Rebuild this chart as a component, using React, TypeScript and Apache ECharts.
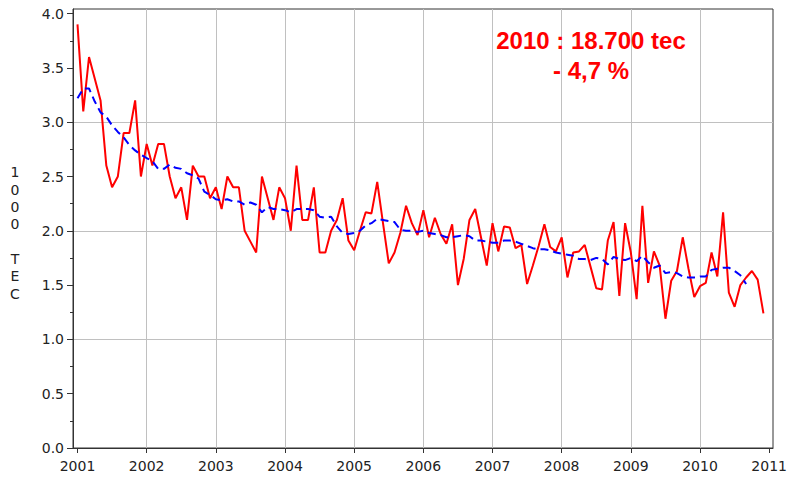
import React, { useEffect, useRef } from "react";
import * as echarts from "echarts";

const START_YEAR = 2001;
const END_YEAR = 2011;

// Monthly values, Jan 2001 .. Dec 2010 (1000 TEC)
const redValues = [
  3.9, 3.1, 3.6, 3.4, 3.2, 2.6, 2.4, 2.5, 2.9, 2.9, 3.2, 2.5,
  2.8, 2.6, 2.8, 2.8, 2.5, 2.3, 2.4, 2.1, 2.6, 2.5, 2.5, 2.3,
  2.4, 2.2, 2.5, 2.4, 2.4, 2.0, 1.9, 1.8, 2.5, 2.3, 2.1, 2.4,
  2.3, 2.0, 2.6, 2.1, 2.1, 2.4, 1.8, 1.8, 2.0, 2.1, 2.3, 1.91,
  1.82, 2.0, 2.17, 2.16, 2.45, 2.07, 1.7, 1.8, 1.98, 2.23, 2.07, 1.96,
  2.19, 1.94, 2.12, 1.97, 1.88, 2.06, 1.5, 1.74, 2.1, 2.2, 1.94, 1.68,
  2.07, 1.81, 2.04, 2.03, 1.84, 1.87, 1.51, 1.68, 1.86, 2.06, 1.85, 1.81,
  1.94, 1.57, 1.8, 1.81, 1.87, 1.67, 1.47, 1.46, 1.91, 2.08, 1.4, 2.07,
  1.8, 1.37, 2.23, 1.52, 1.81, 1.68, 1.19, 1.54, 1.63, 1.94, 1.65, 1.39,
  1.49, 1.52, 1.8, 1.58, 2.17, 1.43, 1.3, 1.5, 1.57, 1.63, 1.55, 1.24,
];

// Trend (dashed), Jan 2001 .. Sep 2010
const blueValues = [
  3.22, 3.31, 3.31, 3.19, 3.09, 3.05, 2.97, 2.91, 2.86, 2.79, 2.74, 2.7,
  2.67, 2.64, 2.57, 2.57, 2.61, 2.58, 2.57, 2.53, 2.51, 2.48, 2.36, 2.33,
  2.29, 2.28, 2.29, 2.27, 2.27, 2.24, 2.26, 2.24, 2.17, 2.22, 2.2, 2.2,
  2.19, 2.17, 2.2, 2.2, 2.2, 2.19, 2.13, 2.12, 2.13, 2.04, 1.98, 1.97,
  1.98, 2.0, 2.05, 2.07, 2.11, 2.1, 2.09, 2.08, 2.01, 2.0, 2.0, 1.99,
  2.0, 1.98, 1.97, 1.96, 1.94, 1.94, 1.95, 1.96, 1.95, 1.91, 1.91, 1.9,
  1.89, 1.89, 1.91, 1.91, 1.9, 1.88, 1.86, 1.84, 1.83, 1.83, 1.82, 1.8,
  1.79, 1.78, 1.77, 1.74, 1.74, 1.73, 1.75, 1.74, 1.69, 1.76, 1.74, 1.73,
  1.75, 1.72, 1.77, 1.71, 1.66, 1.68, 1.61, 1.62, 1.61, 1.58, 1.57, 1.57,
  1.58, 1.58, 1.64, 1.65, 1.66, 1.66, 1.63, 1.59, 1.51,
];

const Y_MIN = 0;
const Y_MAX = 4;
const Y_STEP = 0.5;
const Y_TITLE = "1000 TEC";
const ANNOTATION_LINES = ["2010 : 18.700 tec", "- 4,7 %"];

const LABEL_FONT = "DejaVu Sans";
const LABEL_COLOR = "#222";
const GRID_GRAY = "#c0c0c0";
const T = "transparent";

export default function App() {
  const ref = useRef<HTMLDivElement>(null);

  useEffect(() => {
    if (!ref.current) return;
    const chart = echarts.init(ref.current, null, { renderer: "svg" });
    const toXY = (vals: number[]) =>
      vals.map((v, i) => [START_YEAR + i / 12, v]);

    // frame grid: 2000.935 .. 2011.055 ; 0 .. 4.042
    const xSplitColors = [T, T, GRID_GRAY, GRID_GRAY, GRID_GRAY, GRID_GRAY, GRID_GRAY, GRID_GRAY, GRID_GRAY, GRID_GRAY, GRID_GRAY, T, T];
    const ySplitColors = [T, T, GRID_GRAY, T, GRID_GRAY, T, GRID_GRAY, T, T, T];

    const option: any = {
      animation: false,
      backgroundColor: "#ffffff",
      grid: [
        {
          left: 73,
          top: 9,
          width: 700,
          height: 439,
          show: true,
          borderColor: "#333",
          borderWidth: 1,
          backgroundColor: "transparent",
        },
        { left: 77.5, top: 13.6, width: 691.7, height: 434.4 },
      ],
      xAxis: [
        {
          gridIndex: 0,
          type: "value",
          min: 2000.935,
          max: 2011.055,
          splitNumber: 10,
          minInterval: 1,
          maxInterval: 1,
          axisLine: { show: true, lineStyle: { color: "#333", width: 1 } },
          axisTick: { show: false },
          axisLabel: { show: false },
          splitLine: { show: true, lineStyle: { color: xSplitColors, width: 1 } },
        },
        {
          gridIndex: 1,
          type: "value",
          min: START_YEAR,
          max: END_YEAR,
          interval: 1,
          axisLine: { show: false },
          axisTick: { show: true, length: 5, lineStyle: { color: "#333" } },
          axisLabel: {
            show: true,
            margin: 11,
            fontFamily: LABEL_FONT,
            fontSize: 14,
            color: LABEL_COLOR,
            formatter: (v: number) => String(v),
          },
          splitLine: { show: false },
        },
      ],
      yAxis: [
        {
          gridIndex: 0,
          type: "value",
          min: Y_MIN,
          max: 4.042,
          interval: Y_STEP,
          axisLine: { show: true, lineStyle: { color: "#333", width: 1 } },
          axisTick: { show: false },
          axisLabel: { show: false },
          splitLine: { show: true, lineStyle: { color: ySplitColors, width: 1 } },
        },
        {
          gridIndex: 1,
          type: "value",
          min: Y_MIN,
          max: Y_MAX,
          interval: Y_STEP,
          offset: 4.5,
          axisLine: { show: false },
          axisTick: { show: true, length: 6, lineStyle: { color: "#333" } },
          minorTick: { show: true, splitNumber: 2, length: 3, lineStyle: { color: "#333" } },
          axisLabel: {
            show: true,
            margin: 9,
            fontFamily: LABEL_FONT,
            fontSize: 14,
            color: LABEL_COLOR,
            formatter: (v: number) => v.toFixed(1),
          },
          splitLine: { show: false },
        },
      ],
      graphic: [
        {
          type: "text",
          x: 15,
          y: 233,
          style: {
            text: Y_TITLE.split("").join("\n"),
            font: `14px "${LABEL_FONT}"`,
            fill: LABEL_COLOR,
            align: "center",
            verticalAlign: "middle",
            lineHeight: 17.3,
          },
        },
        {
          type: "text",
          x: 591,
          y: 55,
          z: 100,
          style: {
            text: ANNOTATION_LINES.join("\n"),
            font: 'bold 24px "Liberation Sans", Arial, sans-serif',
            fill: "#ff0000",
            align: "center",
            verticalAlign: "middle",
            lineHeight: 30,
          },
        },
      ],
      series: [
        {
          type: "line",
          xAxisIndex: 0,
          yAxisIndex: 0,
          data: toXY(redValues),
          showSymbol: false,
          symbol: "none",
          lineStyle: { color: "#ff0000", width: 2 },
          z: 3,
        },
        {
          type: "line",
          xAxisIndex: 0,
          yAxisIndex: 0,
          data: toXY(blueValues),
          showSymbol: false,
          symbol: "none",
          lineStyle: { color: "#0000ff", width: 2, type: [8, 5] },
          z: 4,
        },
      ],
    };
    chart.setOption(option);
    return () => chart.dispose();
  }, []);

  return (
    <div
      ref={ref}
      style={{ position: "fixed", left: 0, top: 0, width: 790, height: 481, background: "#fff" }}
    />
  );
}
